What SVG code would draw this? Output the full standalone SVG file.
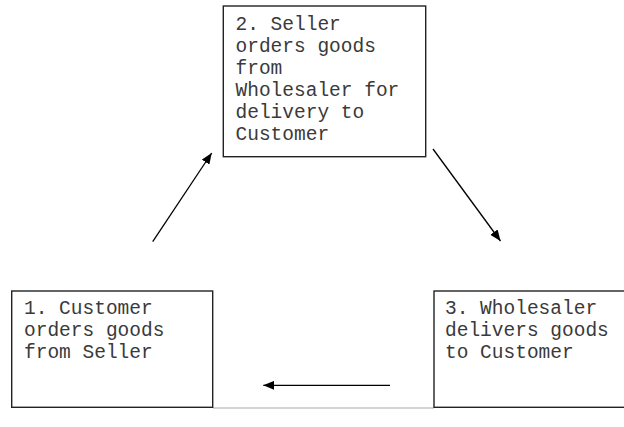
<svg xmlns="http://www.w3.org/2000/svg" width="624" height="427" viewBox="0 0 624 427">
<style>
.box{fill:#fff;stroke:#222;stroke-width:1.4}
.t{font-family:"Liberation Mono","Courier New",monospace;font-size:19.5px;fill:#3a3a3a}
.c{stroke:#000;stroke-width:1.3;fill:none}
</style>
<defs>
<marker id="ah" viewBox="0 0 11 9" refX="11" refY="4.5" markerWidth="11" markerHeight="9" markerUnits="userSpaceOnUse" orient="auto">
<path d="M0,0 L11,4.5 L0,9 z" fill="#000"/>
</marker>
</defs>
<rect width="624" height="427" fill="#fff"/>
<line x1="213" y1="408" x2="434" y2="408" stroke="#c4c4c4" stroke-width="1.3"/>
<g id="node2">
<rect class="box" x="223.3" y="6" width="202.4" height="150.7"/>
<text class="t"><tspan x="235.5" y="30">2. Seller</tspan><tspan x="235.5" y="52">orders goods</tspan><tspan x="235.5" y="74">from</tspan><tspan x="235.5" y="96">Wholesaler for</tspan><tspan x="235.5" y="118">delivery to</tspan><tspan x="235.5" y="140">Customer</tspan></text>
</g>
<g id="node1">
<rect class="box" x="11.7" y="291" width="201" height="116.3"/>
<text class="t"><tspan x="24" y="314">1. Customer</tspan><tspan x="24" y="336">orders goods</tspan><tspan x="24" y="358">from Seller</tspan></text>
</g>
<g id="node3">
<rect class="box" x="434" y="291" width="200" height="116.3"/>
<text class="t"><tspan x="445" y="314">3. Wholesaler</tspan><tspan x="445" y="336">delivers goods</tspan><tspan x="445" y="358">to Customer</tspan></text>
</g>
<g id="connectors">
<line class="c" x1="152.7" y1="241.7" x2="211.7" y2="153" marker-end="url(#ah)"/>
<line class="c" x1="433" y1="149" x2="500.5" y2="241" marker-end="url(#ah)"/>
<line class="c" x1="390" y1="385.3" x2="263.3" y2="385.3" marker-end="url(#ah)"/>
</g>
</svg>
